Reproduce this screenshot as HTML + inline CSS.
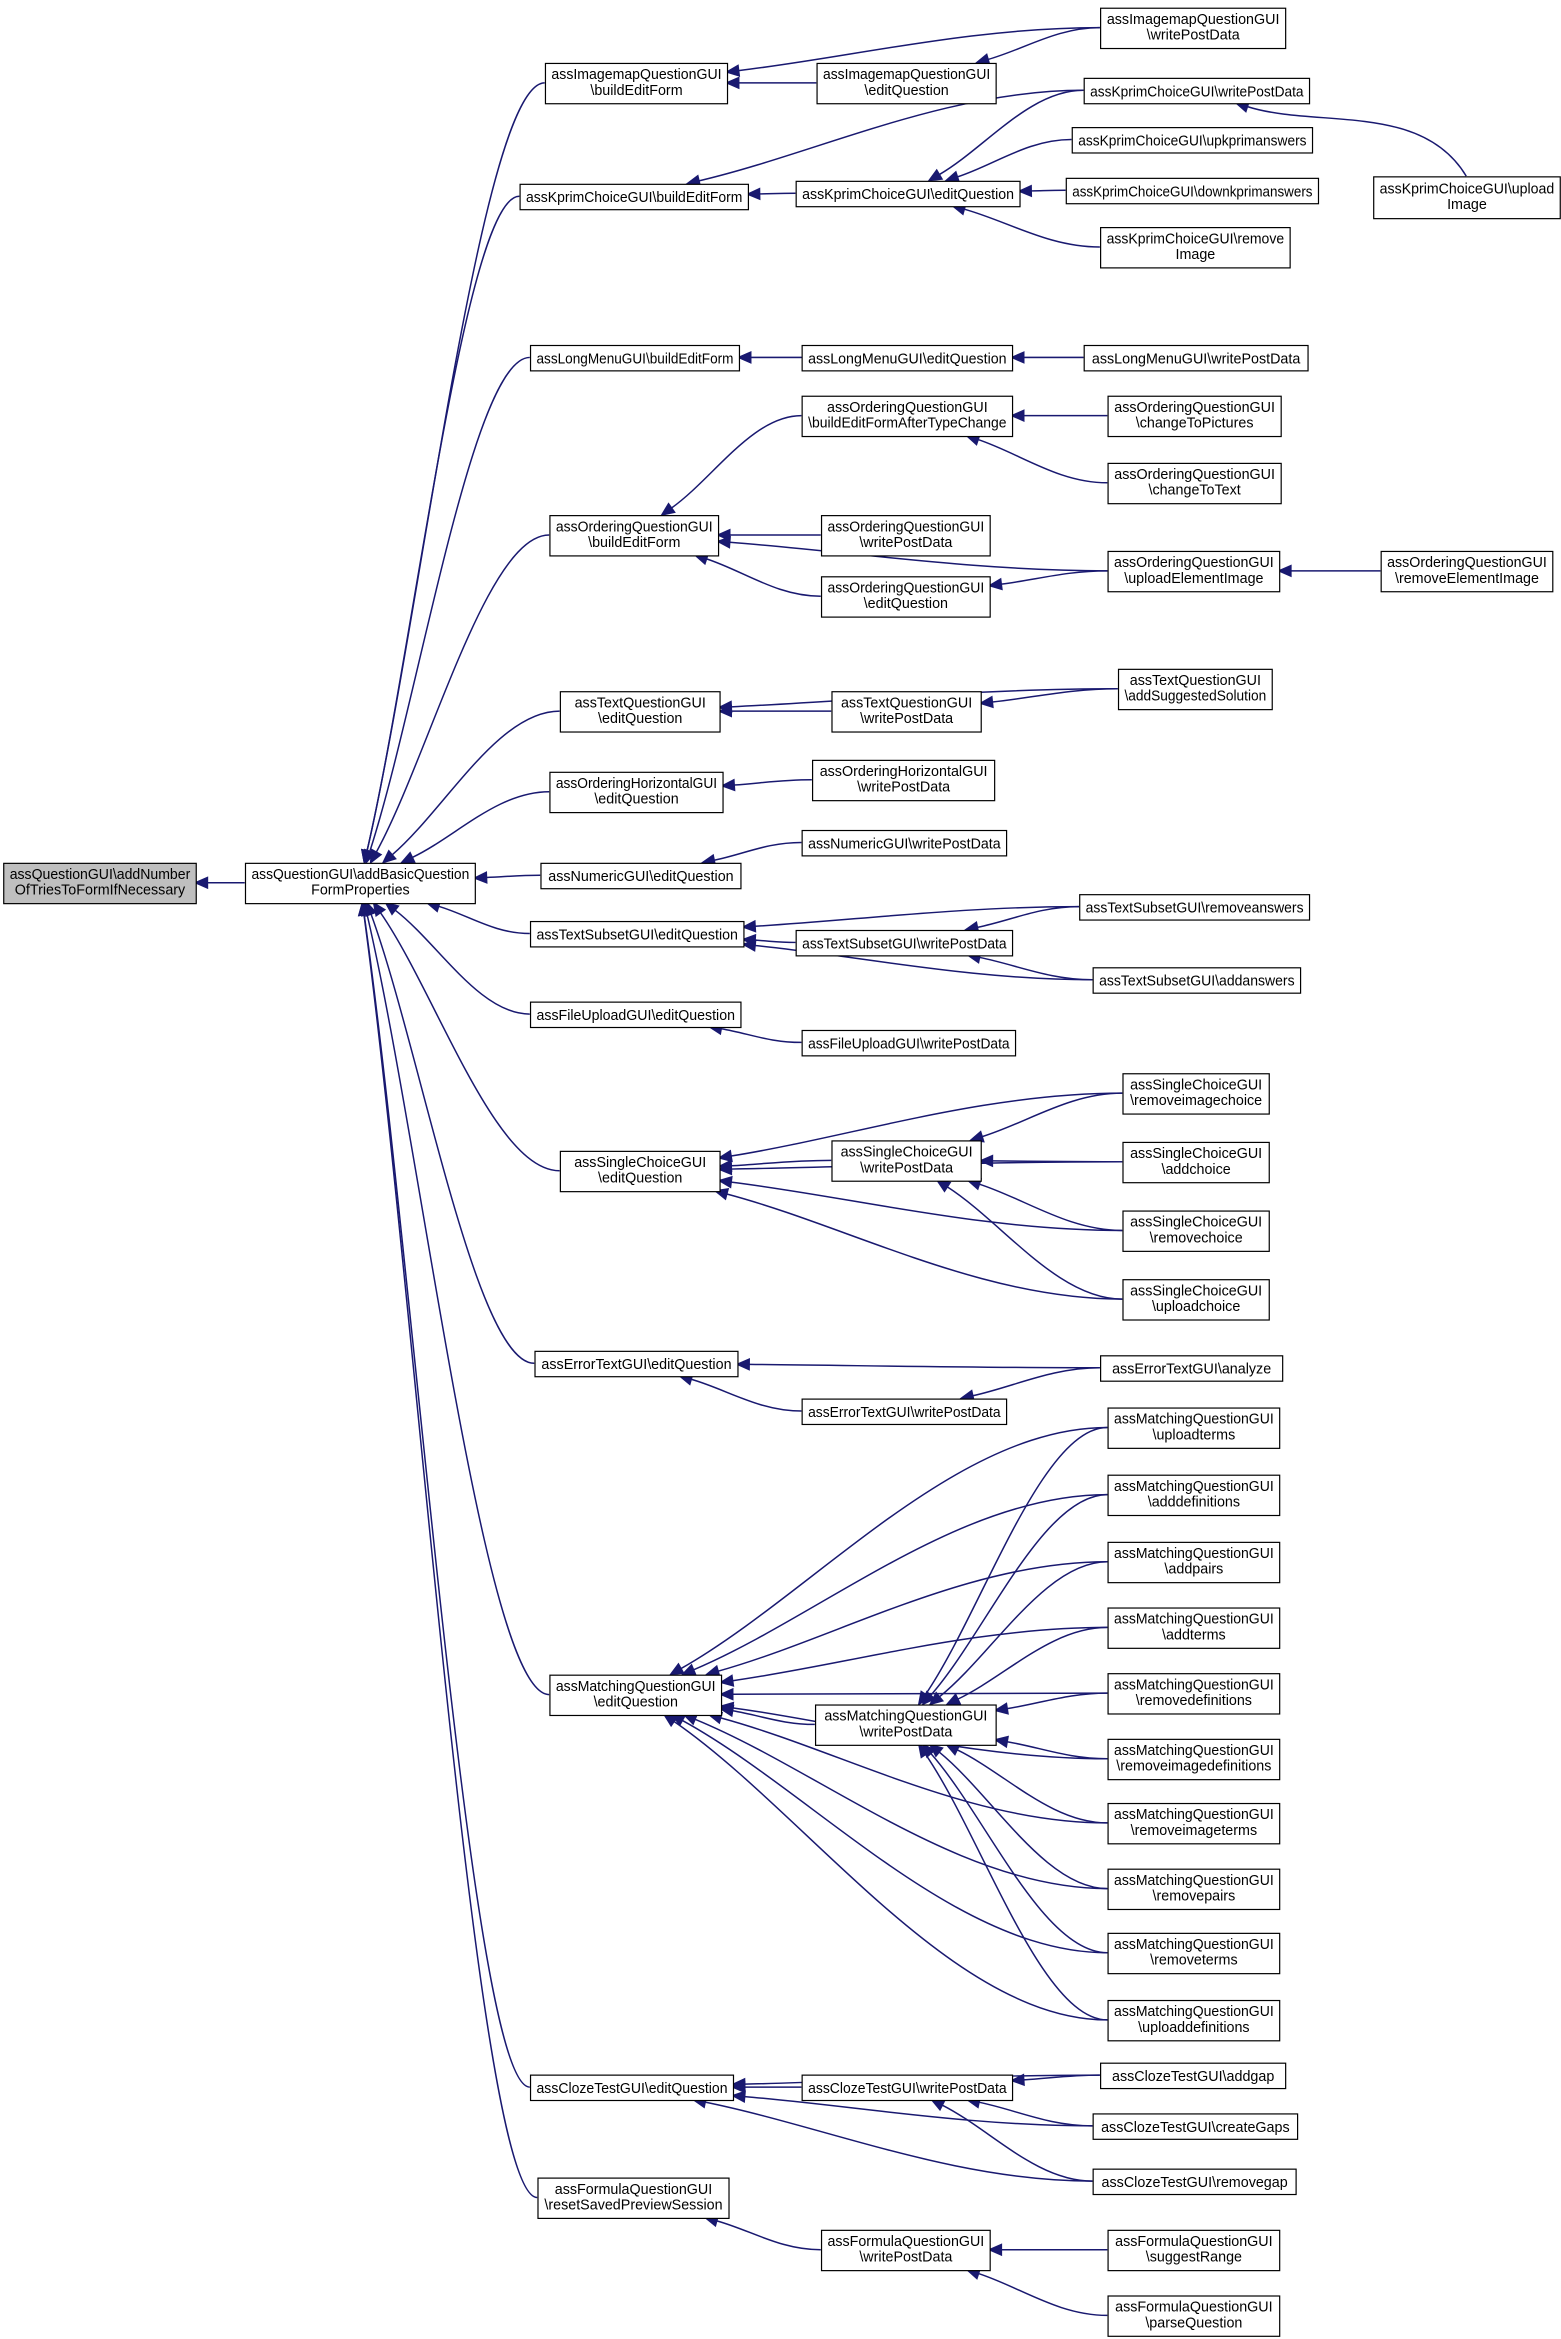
<!DOCTYPE html>
<html><head><meta charset="utf-8"><style>
html,body{margin:0;padding:0;background:#fff;}
svg{display:block}
text{font-family:"Liberation Sans",sans-serif;font-size:9.6px;fill:#000}
</style></head><body>
<svg id="s" width="1561" height="2339" viewBox="0 0 1046 1567.3" xmlns="http://www.w3.org/2000/svg"><g id="E"></g><g id="N"></g></svg>
<script>
var N={
a:[2,578,129,27,"assQuestionGUI\\addNumber","OfTriesToFormIfNecessary",1],
b:[164,578,154,27,"assQuestionGUI\\addBasicQuestion","FormProperties"],
imB:[365,42,122,27,"assImagemapQuestionGUI","\\buildEditForm"],
kpB:[348,123,153,17,"assKprimChoiceGUI\\buildEditForm"],
lmB:[355,231,140,17,"assLongMenuGUI\\buildEditForm"],
orB:[368,345,113,27,"assOrderingQuestionGUI","\\buildEditForm"],
tqE:[375,463,107,27,"assTextQuestionGUI","\\editQuestion"],
ohE:[368,517,116,27,"assOrderingHorizontalGUI","\\editQuestion"],
nuE:[362,578,134,17,"assNumericGUI\\editQuestion"],
tsE:[355,617,143,17,"assTextSubsetGUI\\editQuestion"],
fuE:[355,671,141,17,"assFileUploadGUI\\editQuestion"],
scE:[375,771,107,27,"assSingleChoiceGUI","\\editQuestion"],
etE:[358,905,136,17,"assErrorTextGUI\\editQuestion"],
maE:[368,1122,115,27,"assMatchingQuestionGUI","\\editQuestion"],
clE:[355,1390,136,17,"assClozeTestGUI\\editQuestion"],
foR:[360,1459,128,27,"assFormulaQuestionGUI","\\resetSavedPreviewSession"],
imE:[547,42,120,27,"assImagemapQuestionGUI","\\editQuestion"],
kpE:[533,121,150,17,"assKprimChoiceGUI\\editQuestion"],
lmE:[537,231,141,17,"assLongMenuGUI\\editQuestion"],
orA:[537,265,141,27,"assOrderingQuestionGUI","\\buildEditFormAfterTypeChange"],
orW:[550,345,113,27,"assOrderingQuestionGUI","\\writePostData"],
orE:[550,386,113,27,"assOrderingQuestionGUI","\\editQuestion"],
tqW:[557,463,100,27,"assTextQuestionGUI","\\writePostData"],
ohW:[544,509,122,27,"assOrderingHorizontalGUI","\\writePostData"],
nuW:[537,556,137,17,"assNumericGUI\\writePostData"],
tsW:[533,623,145,17,"assTextSubsetGUI\\writePostData"],
fuW:[537,690,143,17,"assFileUploadGUI\\writePostData"],
scW:[557,764,100,27,"assSingleChoiceGUI","\\writePostData"],
etW:[537,937,137,17,"assErrorTextGUI\\writePostData"],
maW:[546,1142,121,27,"assMatchingQuestionGUI","\\writePostData"],
clW:[537,1390,141,17,"assClozeTestGUI\\writePostData"],
foW:[550,1494,113,27,"assFormulaQuestionGUI","\\writePostData"],
imW:[737,5,124,27,"assImagemapQuestionGUI","\\writePostData"],
kpW:[726,52,151,17,"assKprimChoiceGUI\\writePostData"],
kpU:[718,85,161,17,"assKprimChoiceGUI\\upkprimanswers"],
kpD:[714,119,169,17,"assKprimChoiceGUI\\downkprimanswers"],
kpR:[737,152,127,27,"assKprimChoiceGUI\\remove","Image"],
kpI:[920,118,125,28,"assKprimChoiceGUI\\upload","Image"],
lmW:[726,231,150,17,"assLongMenuGUI\\writePostData"],
orP:[742,265,116,27,"assOrderingQuestionGUI","\\changeToPictures"],
orT:[742,310,116,27,"assOrderingQuestionGUI","\\changeToText"],
orU:[742,369,115,27,"assOrderingQuestionGUI","\\uploadElementImage"],
orR:[925,369,115,27,"assOrderingQuestionGUI","\\removeElementImage"],
tqS:[749,448,103,27,"assTextQuestionGUI","\\addSuggestedSolution"],
tsR:[723,599,154,17,"assTextSubsetGUI\\removeanswers"],
tsA:[732,648,139,17,"assTextSubsetGUI\\addanswers"],
sc1:[752,719,98,27,"assSingleChoiceGUI","\\removeimagechoice"],
sc2:[752,765,98,27,"assSingleChoiceGUI","\\addchoice"],
sc3:[752,811,98,27,"assSingleChoiceGUI","\\removechoice"],
sc4:[752,857,98,27,"assSingleChoiceGUI","\\uploadchoice"],
etA:[737,908,122,17,"assErrorTextGUI\\analyze"],
m1:[742,943,115,27,"assMatchingQuestionGUI","\\uploadterms"],
m2:[742,988,115,27,"assMatchingQuestionGUI","\\adddefinitions"],
m3:[742,1033,115,27,"assMatchingQuestionGUI","\\addpairs"],
m4:[742,1077,115,27,"assMatchingQuestionGUI","\\addterms"],
m5:[742,1121,115,27,"assMatchingQuestionGUI","\\removedefinitions"],
m6:[742,1165,115,27,"assMatchingQuestionGUI","\\removeimagedefinitions"],
m7:[742,1208,115,27,"assMatchingQuestionGUI","\\removeimageterms"],
m8:[742,1252,115,27,"assMatchingQuestionGUI","\\removepairs"],
m9:[742,1295,115,27,"assMatchingQuestionGUI","\\removeterms"],
m10:[742,1340,115,27,"assMatchingQuestionGUI","\\uploaddefinitions"],
clA:[737,1382,124,17,"assClozeTestGUI\\addgap"],
clC:[732,1416,137,17,"assClozeTestGUI\\createGaps"],
clR:[732,1453,136,17,"assClozeTestGUI\\removegap"],
foS:[742,1494,115,27,"assFormulaQuestionGUI","\\suggestRange"],
foP:[742,1538,115,27,"assFormulaQuestionGUI","\\parseQuestion"]
};
var E=[["b","a"]];
["imB","kpB","lmB","orB","tqE","ohE","nuE","tsE","fuE","scE","etE","maE","clE","foR"].forEach(function(k){E.push([k,"b"]);});
E=E.concat([["imE","imB"],["imW","imB"],["imW","imE"],["kpE","kpB"],["kpW","kpB"],["kpW","kpE"],["kpU","kpE"],["kpD","kpE"],["kpR","kpE"],["kpI","kpW"],
["lmE","lmB"],["lmW","lmE"],["lmW","lmB"],["orA","orB"],["orW","orB"],["orE","orB"],["orU","orB"],["orP","orA"],["orT","orA"],["orU","orE"],["orR","orU"],
["tqW","tqE"],["tqS","tqE"],["tqS","tqW"],["ohW","ohE"],["nuW","nuE"],["tsW","tsE"],["tsR","tsE"],["tsA","tsE"],["tsR","tsW"],["tsA","tsW"],["fuW","fuE"],
["scW","scE"],["etW","etE"],["etA","etE"],["etA","etW"],["maW","maE"],["clW","clE"],["clA","clE"],["clC","clE"],["clR","clE"],["clA","clW"],["clC","clW"],["clR","clW"],
["foW","foR"],["foS","foW"],["foP","foW"]]);
["sc1","sc2","sc3","sc4"].forEach(function(k){E.push([k,"scE"]);E.push([k,"scW"]);});
for(var i=1;i<=10;i++){E.push(["m"+i,"maE"]);E.push(["m"+i,"maW"]);}
var NS="http://www.w3.org/2000/svg",gE=document.getElementById("E"),gN=document.getElementById("N");
function el(t,a,p){var e=document.createElementNS(NS,t);for(var k in a)e.setAttribute(k,a[k]);p.appendChild(e);return e;}
function clip(n,px,py){var cx=n[0]+n[2]/2,cy=n[1]+n[3]/2,dx=px-cx,dy=py-cy;var t=Math.min(Math.abs(n[2]/2/(dx||1e-9)),Math.abs(n[3]/2/(dy||1e-9)));return [cx+dx*t,cy+dy*t];}
var C="#191970";
function arrow(x,y,ux,uy){var L=8,W=3.5;var bx=x-ux*L,by=y-uy*L;el("polygon",{points:x+","+y+" "+(bx-uy*W)+","+(by+ux*W)+" "+(bx+uy*W)+","+(by-ux*W),fill:C,stroke:C,"stroke-width":1},gE);}
E.forEach(function(e){var s=N[e[0]],t=N[e[1]];
 var sx=s[0],sy=s[1]+s[3]/2;
 if(e[0]=="kpI"&&e[1]=="kpW"){sx=s[0]+s[2]/2;sy=s[1];}
 var tc=[t[0]+t[2]/2,t[1]+t[3]/2];
 var ep=clip(t,sx,sy);var dx=sx-ep[0],dy=sy-ep[1],len=Math.sqrt(dx*dx+dy*dy);
 var ox=ep[0]-tc[0],oy=ep[1]-tc[1],ol=Math.sqrt(ox*ox+oy*oy)||1;ox/=ol;oy/=ol;
 var ux=-ox,uy=-oy;var tipx=ep[0],tipy=ep[1];
 var bx=tipx+ox*8,by=tipy+oy*8;
 var c1x=sx-Math.abs(dx)*0.35,c1y=sy,c2x=bx+ox*len*0.3,c2y=by+oy*len*0.3;
 if(e[0]=="kpI"&&e[1]=="kpW"){c1x=sx-30;c1y=sy-50;}
 var d="M"+sx+","+sy+" C"+c1x+","+c1y+" "+c2x+","+c2y+" "+bx+","+by;
 if(e[0]=="kpI"&&e[1]=="kpE"){sx=s[0]+s[2]/2-10;sy=s[1]+s[3];bx=625;by=215;
  d="M"+sx+","+sy+" C930,205 720,305 "+bx+","+by;ux=-0.6;uy=-0.8;tipx=bx+ux*8;tipy=by+uy*8;}
 el("path",{d:d,fill:"none",stroke:C,"stroke-width":1},gE);
 arrow(tipx,tipy,ux,uy);
});
for(var k in N){var n=N[k];el("rect",{x:n[0]+0.5,y:n[1]+0.5,width:n[2],height:n[3],fill:n[6]?"#bfbfbf":"#fff",stroke:"#000","stroke-width":0.8},gN);
 var lines=n[5]?[n[4],n[5]]:[n[4]];
 lines.forEach(function(l,i){var y=n[1]+(lines.length==1?n[3]/2+4:n[3]/2-2.5+i*10.5);
  var tx=el("text",{x:n[0]+n[2]/2+0.5,y:y,"text-anchor":"middle"},gN);tx.textContent=l;
  try{var w=tx.getComputedTextLength();if(w>n[2]-8){tx.setAttribute("textLength",n[2]-8);tx.setAttribute("lengthAdjust","spacingAndGlyphs");}}catch(x){}
 });
}
</script>
</body></html>
